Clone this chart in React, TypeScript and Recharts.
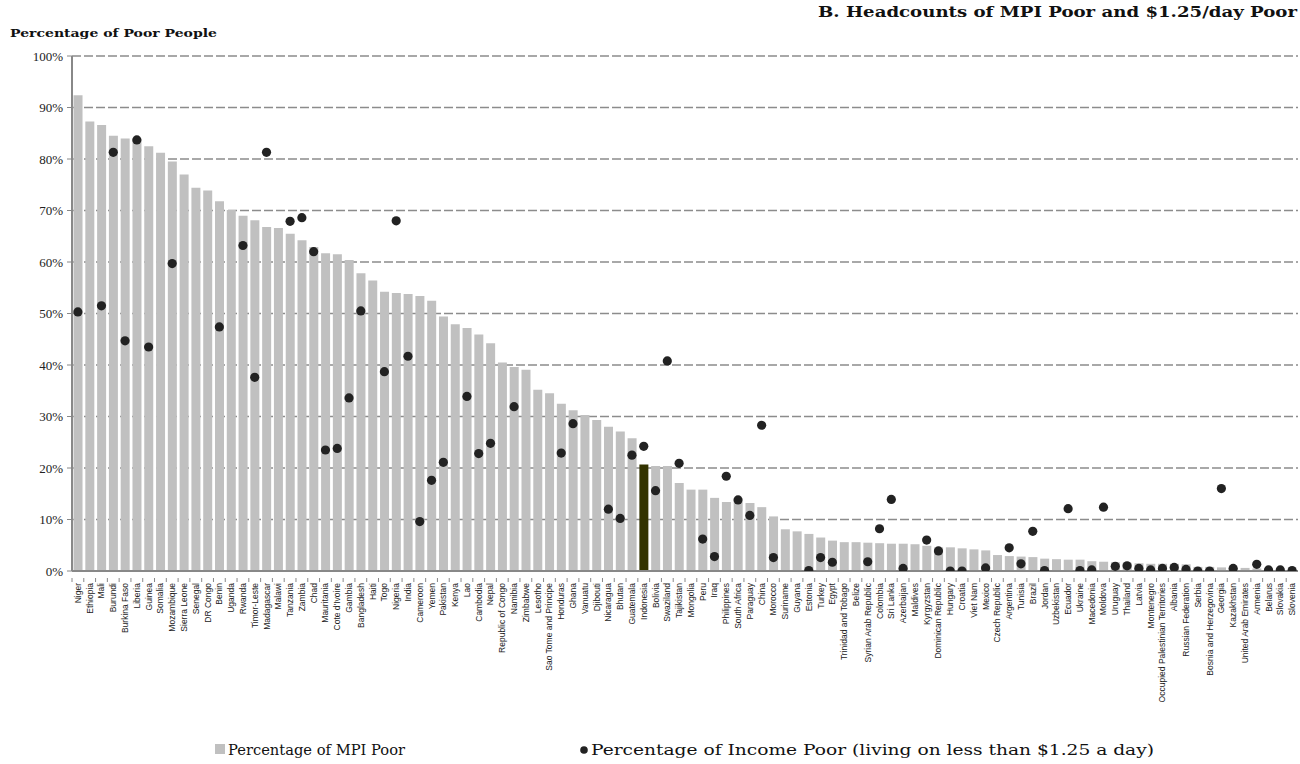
import React from 'react';
import { ComposedChart, Bar, Scatter, XAxis, YAxis, CartesianGrid, Cell } from 'recharts';

const countries = [
  'Niger', 'Ethiopia', 'Mali', 'Burundi', 'Burkina Faso', 'Liberia', 'Guinea', 'Somalia', 'Mozambique', 'Sierra Leone',
  'Senegal', 'DR Congo', 'Benin', 'Uganda', 'Rwanda', 'Timor-Leste', 'Madagascar', 'Malawi', 'Tanzania', 'Zambia',
  'Chad', 'Mauritania', "Cote d'Ivoire", 'Gambia', 'Bangladesh', 'Haiti', 'Togo', 'Nigeria', 'India', 'Cameroon',
  'Yemen', 'Pakistan', 'Kenya', 'Lao', 'Cambodia', 'Nepal', 'Republic of Congo', 'Namibia', 'Zimbabwe', 'Lesotho',
  'Sao Tome and Principe', 'Honduras', 'Ghana', 'Vanuatu', 'Djibouti', 'Nicaragua', 'Bhutan', 'Guatemala', 'Indonesia', 'Bolivia',
  'Swaziland', 'Tajikistan', 'Mongolia', 'Peru', 'Iraq', 'Philippines', 'South Africa', 'Paraguay', 'China', 'Morocco',
  'Suriname', 'Guyana', 'Estonia', 'Turkey', 'Egypt', 'Trinidad and Tobago', 'Belize', 'Syrian Arab Republic', 'Colombia', 'Sri Lanka',
  'Azerbaijan', 'Maldives', 'Kyrgyzstan', 'Dominican Republic', 'Hungary', 'Croatia', 'Viet Nam', 'Mexico', 'Czech Republic', 'Argentina',
  'Tunisia', 'Brazil', 'Jordan', 'Uzbekistan', 'Ecuador', 'Ukraine', 'Macedonia', 'Moldova', 'Uruguay', 'Thailand',
  'Latvia', 'Montenegro', 'Occupied Palestinian Territories', 'Albania', 'Russian Federation', 'Serbia', 'Bosnia and Herzegovina', 'Georgia', 'Kazakhstan', 'United Arab Emirates',
  'Armenia', 'Belarus', 'Slovakia', 'Slovenia',
];

const mpiPoor = [
  92.4, 87.3, 86.6, 84.5, 84.0, 83.9, 82.5, 81.2, 79.5, 77.0,
  74.4, 73.9, 71.8, 70.1, 69.0, 68.1, 66.8, 66.6, 65.5, 64.2,
  62.9, 61.7, 61.5, 60.4, 57.8, 56.4, 54.2, 54.0, 53.8, 53.4,
  52.5, 49.4, 47.9, 47.2, 45.9, 44.2, 40.5, 39.6, 39.1, 35.2,
  34.5, 32.5, 31.2, 30.3, 29.3, 28.0, 27.1, 25.8, 20.7, 20.4,
  20.4, 17.1, 15.8, 15.8, 14.2, 13.4, 13.4, 13.2, 12.4, 10.6,
  8.1, 7.7, 7.2, 6.5, 5.9, 5.6, 5.6, 5.5, 5.4, 5.3,
  5.3, 5.2, 4.9, 4.6, 4.6, 4.4, 4.2, 4.0, 3.1, 2.9,
  2.8, 2.7, 2.4, 2.3, 2.2, 2.2, 1.9, 1.8, 1.7, 1.6,
  1.5, 1.4, 1.4, 1.4, 1.3, 0.8, 0.8, 0.7, 0.6, 0.6,
  0.5, 0.0, 0.0, 0.0,
];

const incomePoor: (number | null)[] = [
  50.3, null, 51.5, 81.3, 44.7, 83.7, 43.5, null, 59.7, null,
  null, null, 47.4, null, 63.2, 37.6, 81.3, null, 67.9, 68.6,
  62.0, 23.5, 23.8, 33.6, 50.5, null, 38.7, 68.0, 41.7, 9.6,
  17.6, 21.1, null, 33.9, 22.8, 24.8, null, 31.9, null, null,
  null, 22.9, 28.6, null, null, 12.0, 10.2, 22.5, 24.2, 15.6,
  40.8, 20.9, null, 6.2, 2.8, 18.4, 13.8, 10.8, 28.3, 2.6,
  null, null, 0.1, 2.6, 1.7, null, null, 1.8, 8.2, 13.9,
  0.5, null, 6.0, 3.9, 0.0, 0.0, null, 0.6, null, 4.5,
  1.4, 7.7, 0.1, null, 12.1, 0.1, 0.2, 12.4, 0.9, 1.0,
  0.5, 0.2, 0.5, 0.7, 0.3, 0.0, 0.0, 16.0, 0.5, null,
  1.3, 0.2, 0.2, 0.1,
];

const yTicks = [0, 10, 20, 30, 40, 50, 60, 70, 80, 90, 100];
const highlightedCountry = 'Indonesia';

const titleText = 'B. Headcounts of MPI Poor and $1.25/day Poor';
const yAxisTitle = 'Percentage of Poor People';
const legendMpi = 'Percentage of MPI Poor';
const legendIncome = 'Percentage of Income Poor (living on less than $1.25 a day)';

const data = countries.map((c, i) => ({ country: c, mpi: mpiPoor[i], income: incomePoor[i] }));

const W = 1300;
const H = 764;
const BAND = (1298 - 72) / countries.length;
const SERIF = "'DejaVu Serif', 'Liberation Serif', serif";
const TIMES = "'Liberation Serif', 'Times New Roman', serif";

const XTick = (props: any) => {
  const { x, y, payload } = props;
  return (
    <g>
      <line x1={x - BAND / 2} x2={x - BAND / 2} y1={y - 1} y2={y + 3} stroke="#888" strokeWidth={1} />
      <text
        transform={`translate(${x + 3},${y + 4}) rotate(-90)`}
        textAnchor="end"
        fontSize={8.5}
        fontFamily="'Liberation Sans', Arial, sans-serif"
        fill="#222"
      >
        {payload.value}
      </text>
    </g>
  );
};

const IncomeDot = (props: any) => {
  const { cx, cy, payload } = props;
  if (payload == null || payload.income == null || cx == null || cy == null) return <g />;
  return <circle cx={cx} cy={cy} r={4.6} fill="#222" />;
};

export default function App() {
  return (
    <div style={{ position: 'absolute', left: 0, top: 0, width: W, height: H, background: '#fff' }}>
      <ComposedChart
        width={W}
        height={H}
        data={data}
        margin={{ top: 56, right: 2, left: 12, bottom: 53 }}
        barCategoryGap="13%"
      >
        <CartesianGrid vertical={false} stroke="#8c8c8c" strokeDasharray="9 3" strokeWidth={1.6} />
        <XAxis
          dataKey="country"
          interval={0}
          height={140}
          tickLine={false}
          axisLine={{ stroke: '#888', strokeWidth: 2 }}
          tick={<XTick />}
        />
        <YAxis
          domain={[0, 100]}
          ticks={yTicks}
          width={60}
          tickFormatter={(v: number) => `${v}%`}
          axisLine={{ stroke: '#888', strokeWidth: 2 }}
          tickLine={{ stroke: '#888' }}
          tickSize={5}
          tickMargin={4}
          tick={{ fontSize: 13, fontFamily: TIMES, fill: '#222' }}
          allowDataOverflow
        />
        <Bar dataKey="mpi" fill="#c0c0c0" isAnimationActive={false}>
          {data.map((d) => (
            <Cell key={d.country} fill={d.country === highlightedCountry ? '#333300' : '#c0c0c0'} />
          ))}
        </Bar>
        <Scatter dataKey="income" shape={<IncomeDot />} isAnimationActive={false} />
      </ComposedChart>
      <svg
        width={W}
        height={H}
        style={{ position: 'absolute', left: 0, top: 0, pointerEvents: 'none' }}
      >
        <text x={818} y={17} fontFamily={SERIF} fontWeight="bold" fontSize={15} fill="#111"
          textLength={479} lengthAdjust="spacingAndGlyphs">{titleText}</text>
        <text x={10} y={37} fontFamily={SERIF} fontWeight="bold" fontSize={11.5} fill="#111"
          textLength={207} lengthAdjust="spacingAndGlyphs">{yAxisTitle}</text>
        <rect x={215} y={744} width={10} height={10} fill="#c0c0c0" />
        <text x={228} y={755} fontFamily={SERIF} fontSize={15} fill="#111"
          textLength={177} lengthAdjust="spacingAndGlyphs">{legendMpi}</text>
        <circle cx={584} cy={750} r={3.8} fill="#222" />
        <text x={591} y={755} fontFamily={SERIF} fontSize={15} fill="#111"
          textLength={563} lengthAdjust="spacingAndGlyphs">{legendIncome}</text>
      </svg>
    </div>
  );
}
